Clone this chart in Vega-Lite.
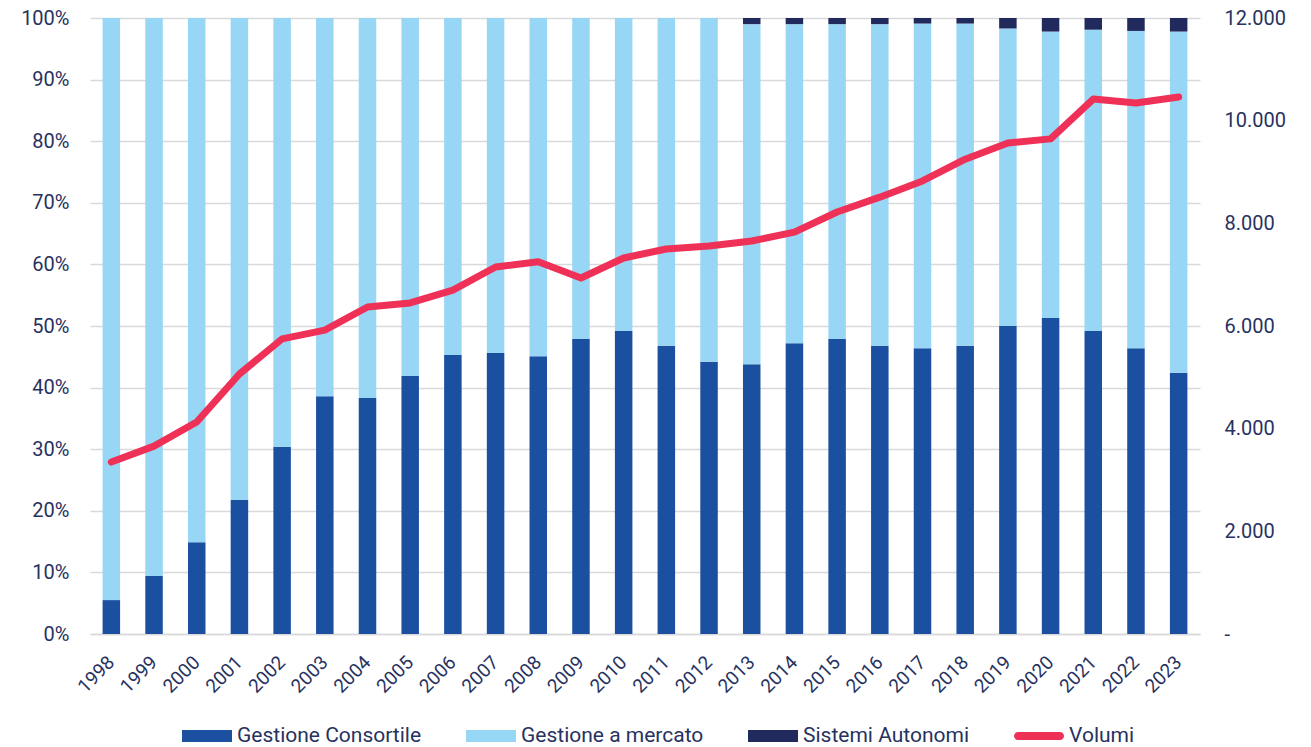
{
  "$schema": "https://vega.github.io/schema/vega-lite/v6.json",
  "width": 1110,
  "height": 616,
  "autosize": {"type": "none"},
  "padding": {"left": 90, "top": 18, "right": 111, "bottom": 113},
  "background": "white",
  "config": {
    "view": {"stroke": null},
    "font": "Roboto",
    "axis": {"labelFont": "Roboto", "labelColor": "#27325f", "labelFontSize": 20, "ticks": false, "domain": false, "title": null}
  },
  "datasets": {
    "shares": [
      {"year": "1998", "category": "Gestione Consortile", "share": 5.5},
      {"year": "1998", "category": "Gestione a mercato", "share": 94.5},
      {"year": "1999", "category": "Gestione Consortile", "share": 9.4},
      {"year": "1999", "category": "Gestione a mercato", "share": 90.6},
      {"year": "2000", "category": "Gestione Consortile", "share": 14.9},
      {"year": "2000", "category": "Gestione a mercato", "share": 85.1},
      {"year": "2001", "category": "Gestione Consortile", "share": 21.8},
      {"year": "2001", "category": "Gestione a mercato", "share": 78.2},
      {"year": "2002", "category": "Gestione Consortile", "share": 30.4},
      {"year": "2002", "category": "Gestione a mercato", "share": 69.6},
      {"year": "2003", "category": "Gestione Consortile", "share": 38.6},
      {"year": "2003", "category": "Gestione a mercato", "share": 61.4},
      {"year": "2004", "category": "Gestione Consortile", "share": 38.3},
      {"year": "2004", "category": "Gestione a mercato", "share": 61.7},
      {"year": "2005", "category": "Gestione Consortile", "share": 41.9},
      {"year": "2005", "category": "Gestione a mercato", "share": 58.1},
      {"year": "2006", "category": "Gestione Consortile", "share": 45.3},
      {"year": "2006", "category": "Gestione a mercato", "share": 54.7},
      {"year": "2007", "category": "Gestione Consortile", "share": 45.6},
      {"year": "2007", "category": "Gestione a mercato", "share": 54.4},
      {"year": "2008", "category": "Gestione Consortile", "share": 45.1},
      {"year": "2008", "category": "Gestione a mercato", "share": 54.9},
      {"year": "2009", "category": "Gestione Consortile", "share": 47.9},
      {"year": "2009", "category": "Gestione a mercato", "share": 52.1},
      {"year": "2010", "category": "Gestione Consortile", "share": 49.2},
      {"year": "2010", "category": "Gestione a mercato", "share": 50.8},
      {"year": "2011", "category": "Gestione Consortile", "share": 46.8},
      {"year": "2011", "category": "Gestione a mercato", "share": 53.2},
      {"year": "2012", "category": "Gestione Consortile", "share": 44.2},
      {"year": "2012", "category": "Gestione a mercato", "share": 55.8},
      {"year": "2013", "category": "Gestione Consortile", "share": 43.8},
      {"year": "2013", "category": "Gestione a mercato", "share": 55.2},
      {"year": "2013", "category": "Sistemi Autonomi", "share": 1.0},
      {"year": "2014", "category": "Gestione Consortile", "share": 47.2},
      {"year": "2014", "category": "Gestione a mercato", "share": 51.8},
      {"year": "2014", "category": "Sistemi Autonomi", "share": 1.0},
      {"year": "2015", "category": "Gestione Consortile", "share": 47.9},
      {"year": "2015", "category": "Gestione a mercato", "share": 51.1},
      {"year": "2015", "category": "Sistemi Autonomi", "share": 1.0},
      {"year": "2016", "category": "Gestione Consortile", "share": 46.8},
      {"year": "2016", "category": "Gestione a mercato", "share": 52.2},
      {"year": "2016", "category": "Sistemi Autonomi", "share": 1.0},
      {"year": "2017", "category": "Gestione Consortile", "share": 46.4},
      {"year": "2017", "category": "Gestione a mercato", "share": 52.7},
      {"year": "2017", "category": "Sistemi Autonomi", "share": 0.9},
      {"year": "2018", "category": "Gestione Consortile", "share": 46.8},
      {"year": "2018", "category": "Gestione a mercato", "share": 52.3},
      {"year": "2018", "category": "Sistemi Autonomi", "share": 0.9},
      {"year": "2019", "category": "Gestione Consortile", "share": 50.0},
      {"year": "2019", "category": "Gestione a mercato", "share": 48.3},
      {"year": "2019", "category": "Sistemi Autonomi", "share": 1.7},
      {"year": "2020", "category": "Gestione Consortile", "share": 51.3},
      {"year": "2020", "category": "Gestione a mercato", "share": 46.5},
      {"year": "2020", "category": "Sistemi Autonomi", "share": 2.2},
      {"year": "2021", "category": "Gestione Consortile", "share": 49.2},
      {"year": "2021", "category": "Gestione a mercato", "share": 48.9},
      {"year": "2021", "category": "Sistemi Autonomi", "share": 1.9},
      {"year": "2022", "category": "Gestione Consortile", "share": 46.4},
      {"year": "2022", "category": "Gestione a mercato", "share": 51.5},
      {"year": "2022", "category": "Sistemi Autonomi", "share": 2.1},
      {"year": "2023", "category": "Gestione Consortile", "share": 42.4},
      {"year": "2023", "category": "Gestione a mercato", "share": 55.4},
      {"year": "2023", "category": "Sistemi Autonomi", "share": 2.2}
    ],
    "volumi": [
      {"year": "1998", "volumi": 3350},
      {"year": "1999", "volumi": 3660},
      {"year": "2000", "volumi": 4130},
      {"year": "2001", "volumi": 5065},
      {"year": "2002", "volumi": 5750},
      {"year": "2003", "volumi": 5920},
      {"year": "2004", "volumi": 6370},
      {"year": "2005", "volumi": 6450},
      {"year": "2006", "volumi": 6700},
      {"year": "2007", "volumi": 7150},
      {"year": "2008", "volumi": 7250},
      {"year": "2009", "volumi": 6935},
      {"year": "2010", "volumi": 7325},
      {"year": "2011", "volumi": 7500},
      {"year": "2012", "volumi": 7560},
      {"year": "2013", "volumi": 7655},
      {"year": "2014", "volumi": 7830},
      {"year": "2015", "volumi": 8220},
      {"year": "2016", "volumi": 8510},
      {"year": "2017", "volumi": 8825},
      {"year": "2018", "volumi": 9250},
      {"year": "2019", "volumi": 9565},
      {"year": "2020", "volumi": 9645},
      {"year": "2021", "volumi": 10420},
      {"year": "2022", "volumi": 10345},
      {"year": "2023", "volumi": 10460}
    ]
  },
  "layer": [
    {
      "data": {"name": "shares"},
      "mark": {"type": "bar"},
      "encoding": {
        "x": {
          "field": "year", "type": "ordinal",
          "scale": {"paddingInner": 0.59, "paddingOuter": 0.295},
          "axis": {"labelAngle": -45, "labelAlign": "right", "labelBaseline": "middle", "labelPadding": 25, "labelFontSize": 19, "domain": true, "domainColor": "#d9d9d9", "domainWidth": 1.5}
        },
        "y": {
          "field": "share", "type": "quantitative", "stack": "normalize",
          "scale": {"domain": [0, 1]},
          "axis": {"format": ".0%", "values": [0, 0.1, 0.2, 0.3, 0.4, 0.5, 0.6, 0.7, 0.8, 0.9, 1], "grid": true, "gridColor": "#d9d9d9", "gridWidth": 1.5, "labelPadding": 21}
        },
        "color": {
          "field": "category", "type": "nominal",
          "scale": {
            "domain": ["Gestione Consortile", "Gestione a mercato", "Sistemi Autonomi", "Volumi"],
            "range": ["#1b50a0", "#97d6f4", "#212a5c", "#ef3158"]
          },
          "legend": {
            "title": null, "orient": "none", "legendX": 92, "legendY": 693, "direction": "horizontal",
            "symbolType": "M-1,-0.24H1V0.24H-1Z", "symbolSize": 2500, "symbolStrokeWidth": 0,
            "labelFont": "Roboto", "labelFontSize": 21, "labelColor": "#27325f", "labelOffset": 5, "labelLimit": 400, "columnPadding": 44,
            "encode": {
              "symbols": {
                "update": {
                  "shape": {"signal": "datum.value === 'Volumi' ? 'M-0.84,-0.16H0.84A0.16,0.16 0 0 1 0.84,0.16H-0.84A0.16,0.16 0 0 1 -0.84,-0.16Z' : 'M-1,-0.24H1V0.24H-1Z'"}
                }
              }
            }
          }
        },
        "order": {"field": "category", "sort": "ascending"}
      }
    },
    {
      "data": {"name": "volumi"},
      "mark": {"type": "line", "strokeWidth": 7, "strokeCap": "round", "strokeJoin": "round"},
      "encoding": {
        "x": {"field": "year", "type": "ordinal"},
        "y": {
          "field": "volumi", "type": "quantitative",
          "scale": {"domain": [0, 12000]},
          "axis": {"orient": "right", "values": [0, 2000, 4000, 6000, 8000, 10000, 12000], "labelExpr": "datum.value == 0 ? '-' : replace(format(datum.value, ',.0f'), ',', '.')", "labelPadding": 24, "labelAlign": "left", "grid": false}
        },
        "color": {"datum": "Volumi"}
      }
    }
  ],
  "resolve": {"scale": {"y": "independent"}}
}
